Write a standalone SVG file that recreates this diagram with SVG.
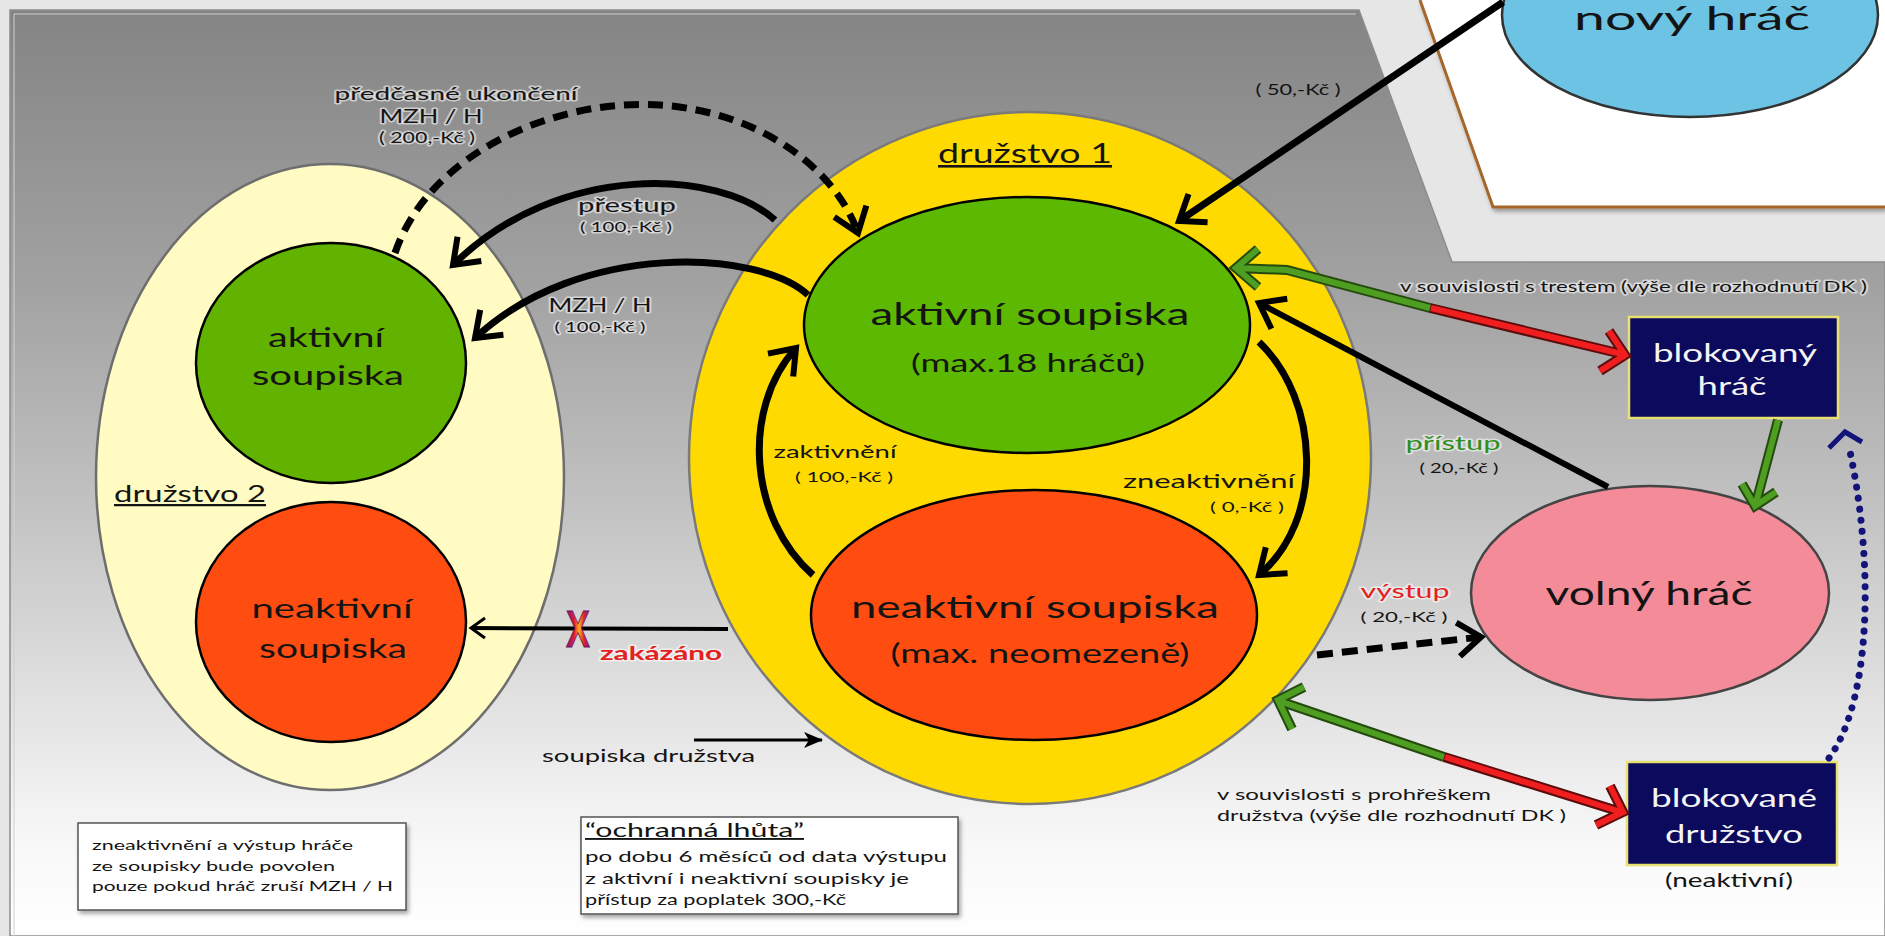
<svg xmlns="http://www.w3.org/2000/svg" width="1885" height="936" viewBox="0 0 1885 936">
<defs>
<style>
.t{font-family:Lato,"Open Sans","DejaVu Sans",sans-serif;fill:#141414}
.m{text-anchor:middle}
.g{paint-order:stroke;stroke:#fff;stroke-opacity:.55;stroke-width:3;stroke-linejoin:round}
.w{fill:#f4f4f4}
.u{text-decoration:underline}
.node{stroke-width:2.5}
.blk{fill:none;stroke:#000;stroke-width:7}
.box{fill:#0c0a5c;stroke:#e8e070;stroke-width:2.5}
.note{fill:#fff;stroke:#555;stroke-width:1.5}
</style>
<linearGradient id="panel" gradientUnits="userSpaceOnUse" x1="0" y1="10" x2="0" y2="936">
<stop offset="0" stop-color="#848484"/>
<stop offset="0.3" stop-color="#a2a2a2"/>
<stop offset="0.55" stop-color="#c4c4c4"/>
<stop offset="0.75" stop-color="#e2e2e2"/>
<stop offset="0.9" stop-color="#f8f8f8"/>
<stop offset="1" stop-color="#ffffff"/>
</linearGradient>
<linearGradient id="xg" x1="0" y1="0" x2="1" y2="0">
<stop offset="0" stop-color="#7a1e8a"/>
<stop offset="0.35" stop-color="#e0202a"/>
<stop offset="0.55" stop-color="#ffb020"/>
<stop offset="0.75" stop-color="#e0202a"/>
<stop offset="1" stop-color="#7a1e8a"/>
</linearGradient>
<filter id="sh" x="-10%" y="-10%" width="130%" height="140%">
<feDropShadow dx="2" dy="3" stdDeviation="2" flood-color="#000" flood-opacity="0.35"/>
</filter>
<marker id="ah" markerUnits="userSpaceOnUse" viewBox="-30 -22 34 44" markerWidth="34" markerHeight="44" refX="0" refY="0" orient="auto" overflow="visible">
<path d="M-23,-17 L0,0 L-23,17" fill="none" stroke="#000" stroke-width="6"/>
</marker>
<marker id="ahs" markerUnits="userSpaceOnUse" viewBox="-20 -14 24 28" markerWidth="24" markerHeight="28" refX="0" refY="0" orient="auto" overflow="visible">
<path d="M-14,-10 L0,0 L-14,10" fill="none" stroke="#000" stroke-width="3"/>
</marker>
<marker id="ahf" markerUnits="userSpaceOnUse" viewBox="-20 -10 24 20" markerWidth="24" markerHeight="20" refX="0" refY="0" orient="auto" overflow="visible">
<path d="M-18,-8 L1,0 L-18,8 L-13,0 Z" fill="#000"/>
</marker>
</defs>

<!-- background -->
<rect x="0" y="0" width="1885" height="936" fill="#e6e6e6"/>
<polygon points="10,10 1359,10 1452,262 1885,262 1885,936 10,936" fill="url(#panel)" stroke="#8c8c8c" stroke-width="1.5"/>
<polyline points="14,936 14,14 1356,14" fill="none" stroke="#cfcfcf" stroke-width="1"/>
<g id="card" filter="url(#sh)">
<polygon points="1420,0 1885,0 1885,207 1493,207" fill="#fff"/>
<polyline points="1420,0 1493,207 1885,207" fill="none" stroke="#a5662b" stroke-width="3"/>
</g>

<!-- team 2 -->
<g id="druzstvo2">
<ellipse cx="330" cy="477" rx="234" ry="313" fill="#fffbc2" stroke="#6e6e6e" class="node"/>
<text class="t u" x="114" y="502" font-size="22.5" textLength="152" lengthAdjust="spacingAndGlyphs">družstvo 2</text>
</g>
<g id="d2-aktivni">
<ellipse cx="331" cy="363" rx="135" ry="120" fill="#62b200" stroke="#000" class="node"/>
<text class="t m" x="326" y="347" font-size="27.5" textLength="116" lengthAdjust="spacingAndGlyphs">aktivní</text>
<text class="t m" x="328" y="385" font-size="27.5" textLength="152" lengthAdjust="spacingAndGlyphs">soupiska</text>
</g>
<g id="d2-neaktivni">
<ellipse cx="331" cy="622" rx="135" ry="120" fill="#ff4d12" stroke="#000" class="node"/>
<text class="t m" x="332" y="618" font-size="27.5" textLength="161" lengthAdjust="spacingAndGlyphs">neaktivní</text>
<text class="t m" x="333" y="658" font-size="27.5" textLength="148" lengthAdjust="spacingAndGlyphs">soupiska</text>
</g>

<!-- team 1 -->
<g id="druzstvo1">
<ellipse cx="1030" cy="458" rx="341" ry="346" fill="#ffda00" stroke="#7a7a7a" class="node"/>
<text class="t m u" x="1025" y="163" font-size="26" textLength="174" lengthAdjust="spacingAndGlyphs">družstvo 1</text>
</g>
<g id="d1-aktivni">
<ellipse cx="1027" cy="325" rx="223" ry="128" fill="#5cb800" stroke="#000" class="node"/>
<text class="t m" x="1030" y="325" font-size="30" textLength="319" lengthAdjust="spacingAndGlyphs">aktivní soupiska</text>
<text class="t m" x="1028" y="372" font-size="25.5" textLength="234" lengthAdjust="spacingAndGlyphs">(max.18 hráčů)</text>
</g>
<g id="d1-neaktivni">
<ellipse cx="1034" cy="615" rx="223" ry="125" fill="#ff4d12" stroke="#000" class="node"/>
<text class="t m" x="1035" y="618" font-size="30.5" textLength="368" lengthAdjust="spacingAndGlyphs">neaktivní soupiska</text>
<text class="t m" x="1040" y="663" font-size="26" textLength="299" lengthAdjust="spacingAndGlyphs">(max. neomezeně)</text>
</g>

<!-- other nodes -->
<g id="novy-hrac">
<ellipse cx="1690" cy="15" rx="188" ry="102" fill="#6cc3e3" stroke="#333" class="node"/>
<text class="t m" x="1692" y="30" font-size="33" textLength="236" lengthAdjust="spacingAndGlyphs">nový hráč</text>
</g>
<g id="volny-hrac">
<ellipse cx="1650" cy="593" rx="179" ry="107" fill="#f48b98" stroke="#444" class="node"/>
<text class="t m" x="1649" y="605" font-size="32" textLength="207" lengthAdjust="spacingAndGlyphs">volný hráč</text>
</g>
<g id="blokovany-hrac">
<rect x="1629" y="317" width="209" height="101" class="box"/>
<text class="t m w" x="1735" y="362" font-size="25" textLength="164" lengthAdjust="spacingAndGlyphs">blokovaný</text>
<text class="t m w" x="1732" y="395" font-size="25" textLength="69" lengthAdjust="spacingAndGlyphs">hráč</text>
</g>
<g id="blokovane-druzstvo">
<rect x="1627" y="762" width="210" height="103" class="box"/>
<text class="t m w" x="1734" y="807" font-size="25" textLength="166" lengthAdjust="spacingAndGlyphs">blokované</text>
<text class="t m w" x="1734" y="843" font-size="25" textLength="138" lengthAdjust="spacingAndGlyphs">družstvo</text>
<text class="t m" x="1729" y="887" font-size="19" textLength="128" lengthAdjust="spacingAndGlyphs">(neaktivní)</text>
</g>

<!-- notes -->
<g id="note-zneaktivneni">
<rect x="78" y="823" width="328" height="87" class="note" filter="url(#sh)"/>
<text class="t" x="92" y="850" font-size="14.2" textLength="261" lengthAdjust="spacingAndGlyphs">zneaktivnění a výstup hráče</text>
<text class="t" x="92" y="871" font-size="14.2" textLength="243" lengthAdjust="spacingAndGlyphs">ze soupisky bude povolen</text>
<text class="t" x="92" y="891" font-size="14.2" textLength="301" lengthAdjust="spacingAndGlyphs">pouze pokud hráč zruší MZH / H</text>
</g>
<g id="note-ochranna">
<rect x="581" y="817" width="377" height="97" class="note" filter="url(#sh)"/>
<text class="t u" x="585" y="837" font-size="18.7" textLength="219" lengthAdjust="spacingAndGlyphs">“ochranná lhůta”</text>
<text class="t" x="585" y="862" font-size="15.4" textLength="362" lengthAdjust="spacingAndGlyphs">po dobu 6 měsíců od data výstupu</text>
<text class="t" x="585" y="884" font-size="15.4" textLength="324" lengthAdjust="spacingAndGlyphs">z aktivní i neaktivní soupisky je</text>
<text class="t" x="585" y="905" font-size="15.4" textLength="261" lengthAdjust="spacingAndGlyphs">přístup za poplatek 300,-Kč</text>
</g>

<!-- connectors -->
<g id="connectors">
<path d="M395,253 C430,150 560,98 660,105 C760,112 835,168 858,233" class="blk" stroke-dasharray="15 9" marker-end="url(#ah)"/>
<path d="M775,220 C720,170 560,160 453,265" class="blk" marker-end="url(#ah)"/>
<path d="M808,295 C760,250 580,240 475,338" class="blk" marker-end="url(#ah)"/>
<path d="M1503,2 L1179,221" class="blk" marker-end="url(#ah)"/>
<path d="M813,575 C750,520 740,410 796,348" class="blk" marker-end="url(#ah)"/>
<path d="M1259,342 C1320,400 1325,520 1259,575" class="blk" marker-end="url(#ah)"/>
<path d="M1608,487 L1259,303" fill="none" stroke="#000" stroke-width="6" marker-end="url(#ah)"/>
<path d="M1317,655 L1481,637" class="blk" stroke-dasharray="16 9" marker-end="url(#ah)"/>
<path d="M728,629 L471,628" fill="none" stroke="#000" stroke-width="4" marker-end="url(#ahs)"/>
<path d="M694,740 L822,740" fill="none" stroke="#000" stroke-width="3" marker-end="url(#ahf)"/>
<g fill="none" stroke-linejoin="miter">
<path d="M1430,308 L1287,270 L1237,268 M1258,249 L1236,268 L1258,287" stroke="#254a0e" stroke-width="10"/>
<path d="M1430,308 L1287,270 L1237,268 M1258,249 L1236,268 L1258,287" stroke="#4e9e22" stroke-width="6"/>
<path d="M1430,308 L1622,354 M1609,331 L1625,355 L1600,371" stroke="#5c0c0c" stroke-width="10"/>
<path d="M1431,308 L1622,354 M1609,331 L1625,355 L1600,371" stroke="#f01e1e" stroke-width="6"/>
<path d="M1444,757 L1279,701 M1304,687 L1278,700 L1292,729" stroke="#254a0e" stroke-width="10"/>
<path d="M1444,757 L1279,701 M1304,687 L1278,700 L1292,729" stroke="#4e9e22" stroke-width="6"/>
<path d="M1444,757 L1621,812 M1610,786 L1623,812 L1596,825" stroke="#5c0c0c" stroke-width="10"/>
<path d="M1445,757 L1621,812 M1610,786 L1623,812 L1596,825" stroke="#f01e1e" stroke-width="6"/>
<path d="M1778,420 L1756,503 M1776,492 L1755,506 L1742,484" stroke="#254a0e" stroke-width="10"/>
<path d="M1778,420 L1756,503 M1776,492 L1755,506 L1742,484" stroke="#4e9e22" stroke-width="6"/>
</g>
<path d="M1829,758 C1872,700 1874,560 1849,447" fill="none" stroke="#13137a" stroke-width="7" stroke-linecap="round" stroke-dasharray="0.1 11"/>
<path d="M1829,448 L1845,432 L1862,442" fill="none" stroke="#13137a" stroke-width="5"/>
</g>

<!-- connector labels -->
<g id="labels">
<text class="t m g" x="456" y="100" font-size="17.9" textLength="243" lengthAdjust="spacingAndGlyphs">předčasné ukončení</text>
<text class="t m g" x="431" y="123" font-size="18.3" textLength="103" lengthAdjust="spacingAndGlyphs">MZH / H</text>
<text class="t m g" x="427" y="143" font-size="14.6" textLength="96" lengthAdjust="spacingAndGlyphs">( 200,-Kč )</text>
<text class="t m g" x="627" y="212" font-size="18.3" textLength="98" lengthAdjust="spacingAndGlyphs">přestup</text>
<text class="t m g" x="626" y="232" font-size="14.2" textLength="92" lengthAdjust="spacingAndGlyphs">( 100,-Kč )</text>
<text class="t m g" x="600" y="312" font-size="18.3" textLength="103" lengthAdjust="spacingAndGlyphs">MZH / H</text>
<text class="t m g" x="600" y="332" font-size="14.2" textLength="91" lengthAdjust="spacingAndGlyphs">( 100,-Kč )</text>
<text class="t m" x="1298" y="95" font-size="14.6" textLength="85" lengthAdjust="spacingAndGlyphs">( 50,-Kč )</text>
<text class="t m" x="835" y="458" font-size="17.9" textLength="123" lengthAdjust="spacingAndGlyphs">zaktivnění</text>
<text class="t m" x="844" y="482" font-size="14.2" textLength="98" lengthAdjust="spacingAndGlyphs">( 100,-Kč )</text>
<text class="t m" x="1209" y="488" font-size="19.2" textLength="172" lengthAdjust="spacingAndGlyphs">zneaktivnění</text>
<text class="t m" x="1247" y="512" font-size="14.2" textLength="74" lengthAdjust="spacingAndGlyphs">( 0,-Kč )</text>
<text class="t m g" x="1453" y="450" font-size="19.2" textLength="95" lengthAdjust="spacingAndGlyphs" style="fill:#2f8f1e">přístup</text>
<text class="t m" x="1459" y="473" font-size="14.2" textLength="79" lengthAdjust="spacingAndGlyphs">( 20,-Kč )</text>
<text class="t m g" x="1405" y="598" font-size="20" textLength="89" lengthAdjust="spacingAndGlyphs" style="fill:#e62020">výstup</text>
<text class="t m" x="1404" y="622" font-size="14.2" textLength="87" lengthAdjust="spacingAndGlyphs">( 20,-Kč )</text>
<text class="t g" x="1400" y="292" font-size="14.6" textLength="467" lengthAdjust="spacingAndGlyphs">v souvislosti s trestem (výše dle rozhodnutí DK )</text>
<text class="t" x="1217" y="800" font-size="15" textLength="274" lengthAdjust="spacingAndGlyphs">v souvislosti s prohřeškem</text>
<text class="t" x="1217" y="821" font-size="15" textLength="349" lengthAdjust="spacingAndGlyphs">družstva (výše dle rozhodnutí DK )</text>
<text class="t" x="542" y="762" font-size="17.5" textLength="213" lengthAdjust="spacingAndGlyphs">soupiska družstva</text>
<text font-family="Liberation Sans, Arial, sans-serif" font-weight="bold" font-size="51" fill="url(#xg)" stroke="#6a1060" stroke-width="1" text-anchor="middle" transform="translate(578,647) scale(0.7,1)">X</text>
<text class="t g" x="600" y="660" font-size="18.5" font-weight="bold" textLength="122" lengthAdjust="spacingAndGlyphs" style="fill:#e42020">zakázáno</text>
</g>
</svg>
